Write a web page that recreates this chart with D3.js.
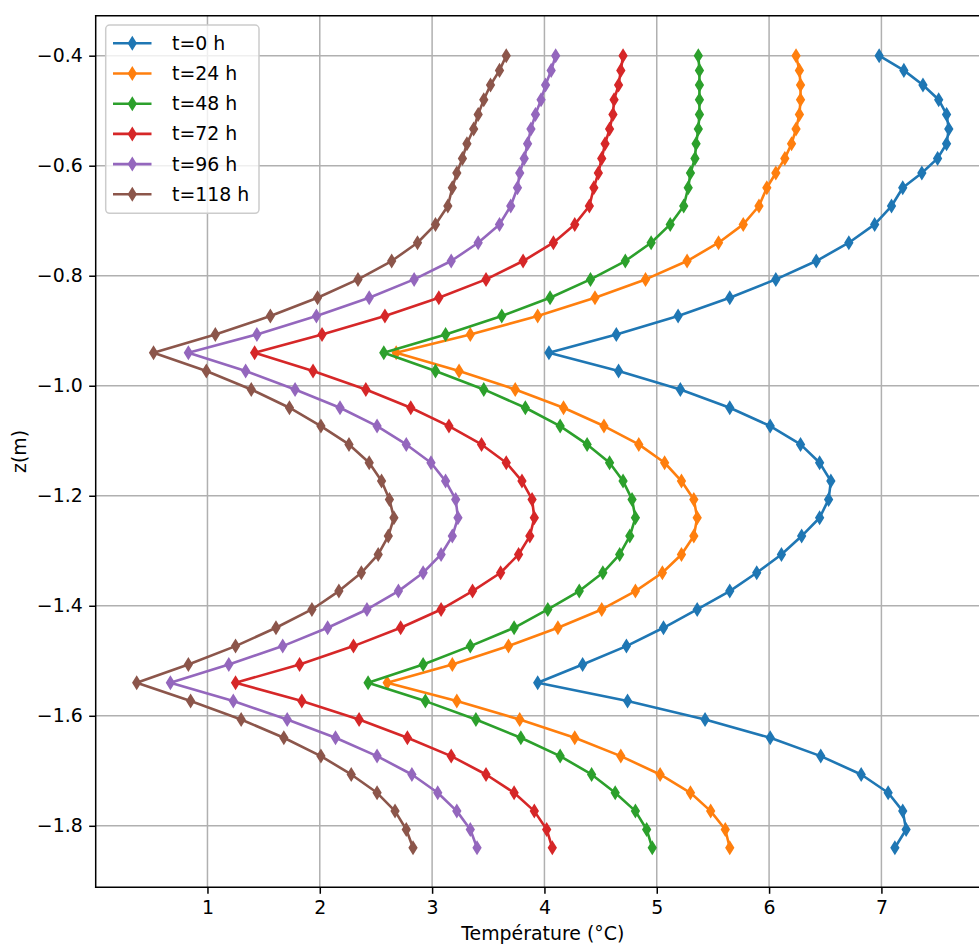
<!DOCTYPE html>
<html>
<head>
<meta charset="utf-8">
<script src="https://cdn.jsdelivr.net/npm/d3@7/dist/d3.min.js"></script>
<style>
  html, body { margin: 0; padding: 0; background: #fff; }
  svg { display: block; font-family: "DejaVu Sans", sans-serif; }
</style>
</head>
<body>
<svg id="chart" width="979" height="944"></svg>
<script>
// ---------- data ----------
const depths = [-0.4, -0.4267, -0.4533, -0.48, -0.5067, -0.5333, -0.56, -0.5867, -0.6133, -0.64,
  -0.6733, -0.7067, -0.74, -0.7733, -0.8067, -0.84, -0.8733, -0.9067, -0.94,
  -0.9733, -1.0067, -1.04, -1.0733, -1.1067, -1.14, -1.1733, -1.2067, -1.24, -1.2733, -1.3067,
  -1.34, -1.3733, -1.4067, -1.44, -1.4733, -1.5067, -1.54,
  -1.5733, -1.6067, -1.64, -1.6733, -1.7067, -1.74, -1.7733, -1.8067, -1.84];

const seriesNames = ["t=0 h", "t=24 h", "t=48 h", "t=72 h", "t=96 h", "t=118 h"];
const seriesColors = ["#1f77b4", "#ff7f0e", "#2ca02c", "#d62728", "#9467bd", "#8c564b"];

const temp0 = [6.98, 7.20, 7.37, 7.51, 7.58, 7.60, 7.58, 7.50, 7.36, 7.19,
  7.09, 6.94, 6.71, 6.42, 6.06, 5.65, 5.19, 4.64, 4.04,
  4.66, 5.21, 5.65, 6.01, 6.28, 6.45, 6.55, 6.53, 6.45, 6.29, 6.11, 5.89, 5.65, 5.36, 5.06, 4.73, 4.34, 3.94,
  4.74, 5.43, 6.01, 6.46, 6.82, 7.06, 7.19, 7.22, 7.12];
const temp24 = [6.24, 6.27, 6.28, 6.28, 6.27, 6.24, 6.20, 6.14, 6.06, 5.98,
  5.91, 5.77, 5.55, 5.27, 4.90, 4.45, 3.94, 3.34, 2.68,
  3.24, 3.74, 4.17, 4.53, 4.84, 5.07, 5.22, 5.33, 5.36, 5.33, 5.22, 5.05, 4.81, 4.51, 4.12, 3.68, 3.18, 2.60,
  3.22, 3.78, 4.27, 4.68, 5.03, 5.30, 5.48, 5.61, 5.65];
const temp48 = [5.37, 5.38, 5.38, 5.38, 5.38, 5.37, 5.35, 5.34, 5.30, 5.28,
  5.24, 5.12, 4.95, 4.72, 4.41, 4.05, 3.62, 3.12, 2.57,
  3.03, 3.46, 3.83, 4.14, 4.38, 4.58, 4.70, 4.78, 4.81, 4.76, 4.67, 4.52, 4.31, 4.03, 3.73, 3.34, 2.92, 2.43,
  2.94, 3.39, 3.79, 4.14, 4.42, 4.63, 4.81, 4.91, 4.96];
const temp72 = [4.70, 4.68, 4.66, 4.62, 4.61, 4.58, 4.54, 4.51, 4.48, 4.44,
  4.40, 4.27, 4.08, 3.81, 3.48, 3.06, 2.58, 2.02, 1.42,
  1.94, 2.41, 2.81, 3.15, 3.44, 3.66, 3.80, 3.89, 3.91, 3.87, 3.77, 3.61, 3.36, 3.08, 2.72, 2.30, 1.82, 1.25,
  1.84, 2.35, 2.78, 3.17, 3.48, 3.73, 3.91, 4.02, 4.07];
const temp96 = [4.10, 4.06, 4.01, 3.97, 3.92, 3.88, 3.85, 3.82, 3.78, 3.76,
  3.70, 3.60, 3.41, 3.17, 2.84, 2.44, 1.97, 1.44, 0.83,
  1.34, 1.78, 2.18, 2.51, 2.77, 2.99, 3.12, 3.21, 3.23, 3.18, 3.08, 2.92, 2.70, 2.42, 2.07, 1.67, 1.19, 0.67,
  1.23, 1.71, 2.14, 2.51, 2.82, 3.05, 3.22, 3.34, 3.40];
const temp118 = [3.66, 3.60, 3.52, 3.46, 3.41, 3.37, 3.31, 3.27, 3.22, 3.18,
  3.14, 3.03, 2.87, 2.64, 2.34, 1.98, 1.56, 1.07, 0.52,
  0.99, 1.39, 1.73, 2.01, 2.26, 2.44, 2.55, 2.62, 2.66, 2.61, 2.52, 2.37, 2.17, 1.93, 1.61, 1.25, 0.83, 0.37,
  0.85, 1.30, 1.68, 2.01, 2.28, 2.51, 2.67, 2.77, 2.83];

const xTicks = [1, 2, 3, 4, 5, 6, 7];
const yTicks = [-1.8, -1.6, -1.4, -1.2, -1.0, -0.8, -0.6, -0.4];
const xLabel = "Température (°C)";
const yLabel = "z(m)";

const seriesValues = [temp0, temp24, temp48, temp72, temp96, temp118];
const series = seriesNames.map((name, i) => ({
  name, color: seriesColors[i],
  points: depths.map((z, j) => ({ z, t: seriesValues[i][j] }))
}));

// ---------- layout ----------
const FS = 18.9;
const pL = 95.7, pT = 15.7, pR = 989.8, pB = 887.3;

const x = d3.scaleLinear().domain([0.005, 7.965]).range([pL, pR]);
const y = d3.scaleLinear().domain([-1.9118, -0.3273]).range([pB, pT]);

const svg = d3.select("#chart");

// grid
const grid = svg.append("g");
grid.selectAll("line.gx").data(xTicks).join("line").attr("class", "gx")
  .attr("x1", d => x(d)).attr("x2", d => x(d))
  .attr("y1", pT).attr("y2", pB)
  .attr("stroke", "#b0b0b0").attr("stroke-width", 1.5);
grid.selectAll("line.gy").data(yTicks).join("line").attr("class", "gy")
  .attr("x1", pL).attr("x2", pR)
  .attr("y1", d => y(d)).attr("y2", d => y(d))
  .attr("stroke", "#b0b0b0").attr("stroke-width", 1.5);

// series
const line = d3.line().x(d => x(d.t)).y(d => y(d.z));
const hh = 5.8, hw = 3.6;
const diamond = `M0,${-hh}L${hw},0L0,${hh}L${-hw},0Z`;

const plot = svg.append("g");
series.forEach(s => {
  const g = plot.append("g");
  g.append("path").datum(s.points)
    .attr("d", line).attr("fill", "none")
    .attr("stroke", s.color).attr("stroke-width", 2.6)
    .attr("stroke-linejoin", "round");
  g.selectAll("path.m").data(s.points).join("path")
    .attr("class", "m")
    .attr("d", diamond)
    .attr("transform", d => `translate(${x(d.t)},${y(d.z)})`)
    .attr("fill", s.color).attr("stroke", s.color).attr("stroke-width", 1.8)
    .attr("stroke-linejoin", "miter");
});

// axes
const axL = svg.append("g").attr("transform", `translate(${pL},0)`)
  .call(d3.axisLeft(y).tickValues(yTicks).tickSize(6.5).tickPadding(6.5).tickSizeOuter(0)
    .tickFormat(d => d3.format(".1f")(d).replace("-", "−")));
const axB = svg.append("g").attr("transform", `translate(0,${pB})`)
  .call(d3.axisBottom(x).tickValues(xTicks).tickSize(6.5).tickPadding(6.5).tickSizeOuter(0)
    .tickFormat(d3.format("d")));
[axL, axB].forEach(a => {
  a.select(".domain").remove();
  a.selectAll(".tick line").attr("stroke", "#000").attr("stroke-width", 1.5);
  a.selectAll(".tick text").attr("fill", "#000")
    .style("font-family", "'DejaVu Sans', sans-serif").style("font-size", FS + "px");
});

// spines
const sp = svg.append("g").attr("stroke", "#000").attr("stroke-width", 1.5).attr("stroke-linecap", "square");
sp.append("line").attr("x1", pL).attr("x2", pL).attr("y1", pT).attr("y2", pB);
sp.append("line").attr("x1", pL).attr("x2", pR).attr("y1", pB).attr("y2", pB);
sp.append("line").attr("x1", pL).attr("x2", pR).attr("y1", pT).attr("y2", pT);
sp.append("line").attr("x1", pR).attr("x2", pR).attr("y1", pT).attr("y2", pB);

// axis labels
svg.append("text").attr("x", (pL + pR) / 2).attr("y", 940)
  .attr("text-anchor", "middle").attr("font-size", FS).attr("fill", "#000").text(xLabel);
svg.append("text").attr("transform", `translate(25.5,${(pT + pB) / 2}) rotate(-90)`)
  .attr("text-anchor", "middle").attr("font-size", FS).attr("fill", "#000").text(yLabel);

// legend
const lg = svg.append("g");
lg.append("rect").attr("x", 105.7).attr("y", 25).attr("width", 153.3).attr("height", 188.3)
  .attr("rx", 4).attr("fill", "#fff").attr("fill-opacity", 0.8)
  .attr("stroke", "#cccccc").attr("stroke-width", 1.5);
const rows = lg.selectAll("g.row").data(series).join("g").attr("class", "row")
  .attr("transform", (d, i) => `translate(0,${43.3 + i * 30.2})`);
rows.append("line").attr("x1", 113).attr("x2", 151.5).attr("y1", 0).attr("y2", 0)
  .attr("stroke", d => d.color).attr("stroke-width", 2.6);
rows.append("path").attr("d", diamond).attr("transform", "translate(132.3,0)")
  .attr("fill", d => d.color).attr("stroke", d => d.color).attr("stroke-width", 1.8);
rows.append("text").attr("x", 172).attr("y", 6.5).attr("font-size", FS).attr("fill", "#000")
  .text(d => d.name);
</script>
</body>
</html>
